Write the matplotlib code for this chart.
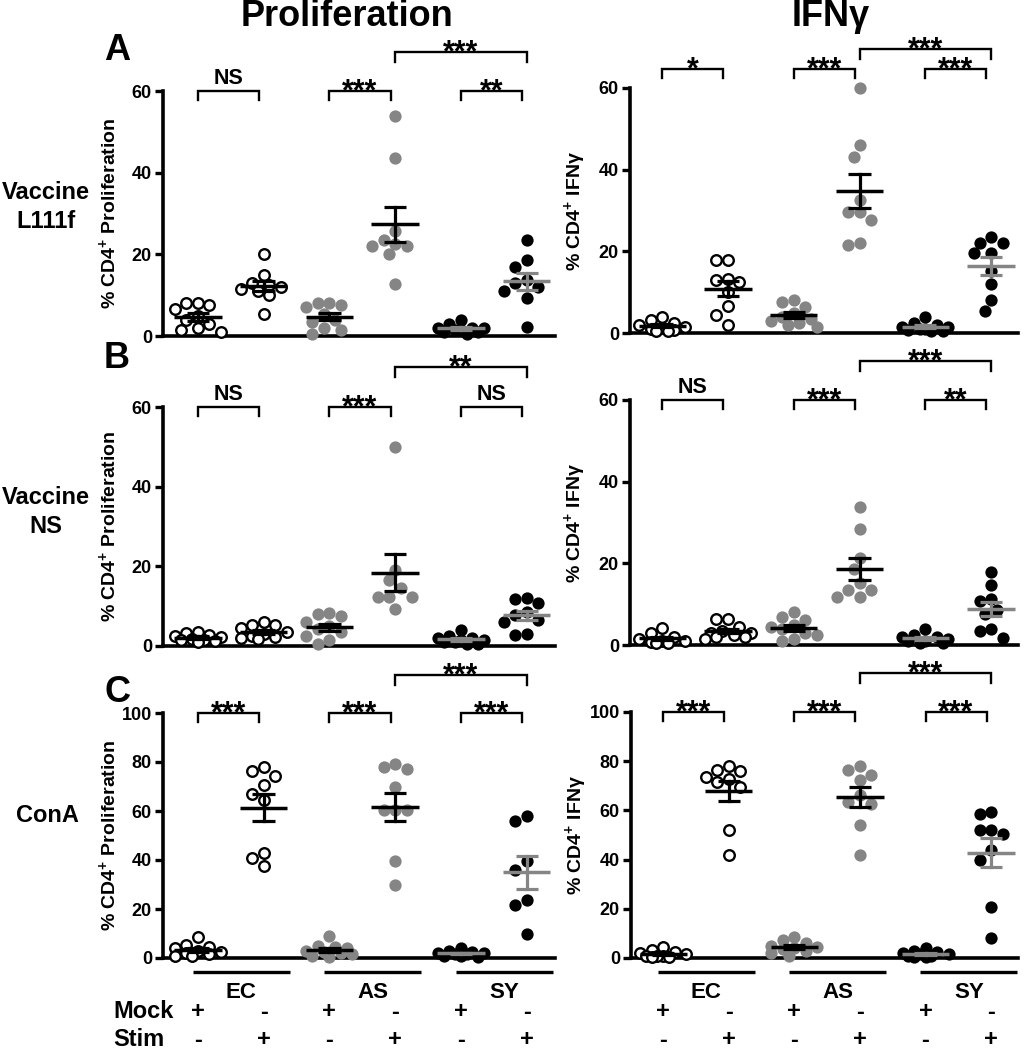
import numpy as np
import matplotlib.pyplot as plt

plt.rcParams['font.family'] = ['Liberation Sans', 'DejaVu Sans']
plt.rcParams['font.weight'] = 'bold'
plt.rcParams['mathtext.default'] = 'regular'

W, H = 1024, 1050
GRAY = '#858585'

# columns: EC mock, EC stim, AS mock, AS stim, SY mock, SY stim
groups = ['EC', 'AS', 'SY']
mock_signs = ['+', '-', '+', '-', '+', '-']
stim_signs = ['-', '+', '-', '+', '-', '+']

prolif_l111f = [
    [8, 8, 7.5, 6.5, 5, 4, 3, 2, 1.5, 1],
    [20, 15, 13, 12.5, 12, 11.5, 11, 10, 5.5],
    [8, 8, 7.5, 7, 5.5, 4, 3.5, 2, 1.5, 0.5],
    [54, 43.5, 25.8, 23.5, 22.5, 22, 22, 20, 12.7],
    [4, 3, 2, 2, 2, 1.5, 1.5, 1, 1, 0.5],
    [23.5, 18.6, 17, 13.7, 13, 12, 10.9, 9.2, 2.3],
]
ifng_l111f = [
    [4, 3.2, 2.5, 2, 1.5, 1.2, 1, 0.8, 0.6, 0.5],
    [17.9, 17.9, 13.2, 12.9, 12.6, 10, 6.7, 4.5, 2.0],
    [8.1, 7.5, 6.3, 5, 4, 3.5, 3, 2.5, 2, 1.5],
    [59.9, 46, 43.2, 32.6, 29.7, 29.7, 27.7, 22.1, 21.6],
    [4, 2.5, 2, 1.5, 1.5, 1, 1, 0.8, 0.5, 0.5],
    [23.6, 22.1, 22.1, 19.7, 19.5, 15.3, 12, 8.1, 5.3],
]
prolif_ns = [
    [3.6, 3.2, 2.8, 2.4, 2.2, 1.8, 1.6, 1.4, 1.2, 1.0],
    [6.1, 5.3, 5.3, 4.4, 3.5, 3, 2.5, 2.2, 2, 1.8],
    [8.2, 8, 7.5, 6, 5, 4.2, 3.5, 2.5, 1.5, 0.5],
    [50, 19.2, 16.5, 14.5, 12.4, 12.4, 12.4, 9.4],
    [4, 2.5, 2, 2, 1.5, 1.5, 1, 1, 0.5, 0.5],
    [12, 11.8, 10.8, 8.6, 7.8, 6.5, 6, 3, 2.7],
]
ifng_ns = [
    [4.1, 3, 2, 1.5, 1, 1, 0.8, 0.5, 0.5],
    [6.3, 6.3, 4.5, 3.5, 3, 3, 2.5, 2, 2, 1.5],
    [8.1, 6.9, 6.1, 5, 4.5, 4, 3, 2.5, 1.5, 1],
    [33.8, 28.5, 21.2, 18.7, 15.1, 13.4, 13.4, 11.8, 11.8],
    [4, 2.5, 2, 2, 1.5, 1, 1, 0.5, 0.5],
    [17.8, 14.7, 11.2, 10.8, 8.5, 7.7, 3.8, 3.5, 1.8],
]
prolif_cona = [
    [8.4, 5.4, 4.5, 4, 3, 2.5, 2, 1.5, 1, 1],
    [78, 76.2, 74.4, 70.7, 66.9, 64.6, 42.9, 40.8, 37.7],
    [8.8, 5, 4.5, 4, 3, 2.5, 2, 1.5, 1, 0.5],
    [79.2, 77.8, 77.1, 70, 60.3, 60.3, 60.3, 39.7, 29.7],
    [4, 3, 2.5, 2, 2, 1.5, 1.5, 1, 1, 0.5],
    [57.8, 55.8, 39.7, 36.1, 23.8, 21.8, 9.9],
]
ifng_cona = [
    [4.3, 3.4, 2.5, 2, 1.5, 1, 1, 1, 0.5, 0.5],
    [78, 76.4, 76, 73.6, 72.6, 71.5, 69.6, 52, 41.9],
    [8.5, 7.4, 6, 5, 4.5, 4, 3.5, 3, 2, 1],
    [78, 76.4, 74.3, 72.3, 66.2, 63.5, 62.8, 54, 41.9],
    [4, 3, 2.5, 2, 1.5, 1.5, 1, 1, 0.5, 0.5],
    [59.2, 58.5, 52, 52, 50.4, 43.9, 39.9, 20.9, 8.1],
]

# significance labels: EC pair, AS pair, SY pair, AS stim vs SY stim
sig_prolif_l111f = ['NS', '***', '**', '***']
sig_ifng_l111f = ['*', '***', '***', '***']
sig_prolif_ns = ['NS', '***', 'NS', '**']
sig_ifng_ns = ['NS', '***', '**', '***']
sig_prolif_cona = ['***', '***', '***', '***']
sig_ifng_cona = ['***', '***', '***', '***']

fig = plt.figure(figsize=(W / 100, H / 100), dpi=100)
fig.patch.set_facecolor('white')


def swarm_offsets(vals, ppu, diam=11.5):
    # spread close points sideways (pixel space); dense clusters may overlap, like GraphPad
    order = np.argsort(vals)[::-1]
    placed = []
    offs = np.zeros(len(vals))
    step = diam * 0.5
    cands = [0]
    for k in range(1, 5):
        cands += [-k * step, k * step]
    mind = diam * 1.0
    for i in order:
        y = vals[i] * ppu
        best, best_d = 0, -1
        for c in cands:
            d = min([np.hypot(c - px, y - py) for px, py in placed] or [1e9])
            if d >= mind:
                best = c
                break
            if d > best_d + 0.5:
                best, best_d = c, d
        placed.append((best, y))
        offs[i] = best
    return offs


def panel(x0, x1, ybot, ytop, ymax, xlim, data, sigs, ylabel, pair_up, big_up):
    ax = fig.add_axes([x0 / W, 1 - ybot / H, (x1 - x0) / W, (ybot - ytop) / H])
    ax.set_xlim(*xlim)
    ax.set_ylim(0, ymax)
    ppu = (ybot - ytop) / ymax
    ppx = (x1 - x0) / (xlim[1] - xlim[0])
    for s in ['top', 'right']:
        ax.spines[s].set_visible(False)
    for s in ['left', 'bottom']:
        ax.spines[s].set_linewidth(2.6)
    ax.set_xticks([])
    ax.set_yticks(np.arange(0, ymax + 1, 20))
    ax.tick_params(axis='y', length=6, width=2.4, labelsize=13, pad=2)
    ax.patch.set_alpha(0)

    for j, vals in enumerate(data):
        vals = np.array(vals, dtype=float)
        pos = j + 1
        g = j // 2
        xs = pos + swarm_offsets(vals, ppu) / ppx
        if g == 0:
            ax.scatter(xs, vals, s=58, facecolor='white', edgecolor='black',
                       linewidth=1.7, clip_on=False, zorder=3)
        else:
            ax.scatter(xs, vals, s=78, color=GRAY if g == 1 else 'black',
                       linewidth=0, clip_on=False, zorder=3)
        m = vals.mean()
        sem = vals.std(ddof=1) / np.sqrt(len(vals))
        mc = GRAY if g == 2 else 'black'
        ax.plot([pos - 0.36, pos + 0.36], [m, m], color=mc, lw=2.5,
                solid_capstyle='butt', zorder=4, clip_on=False)
        ax.plot([pos, pos], [m - sem, m + sem], color=mc, lw=2.3, zorder=4, clip_on=False)
        for yy in (m - sem, m + sem):
            ax.plot([pos - 0.17, pos + 0.17], [yy, yy], color=mc, lw=2.3,
                    solid_capstyle='butt', zorder=4, clip_on=False)

    def bracket(xa, xb, up_px, label, arm_px):
        y = ymax + up_px / ppu
        arm = arm_px / ppu
        ax.plot([xa, xa, xb, xb], [y - arm, y, y, y - arm], color='black', lw=1.7,
                clip_on=False, solid_joinstyle='miter')
        if '*' in label:
            ax.annotate(label, ((xa + xb) / 2, y), xytext=(0, -7), textcoords='offset points',
                        ha='center', va='baseline', fontsize=22, annotation_clip=False)
        else:
            ax.annotate(label, ((xa + xb) / 2, y), xytext=(0, 1.5), textcoords='offset points',
                        ha='center', va='bottom', fontsize=15.5, annotation_clip=False)

    for k in range(3):
        bracket(2 * k + 1, 2 * k + 1.93, pair_up, sigs[k], 9)
    bracket(4, 6, big_up, sigs[3], 10)

    fig.text((x0 - 55) / W, 1 - (ybot + ytop) / 2 / H, ylabel, rotation=90,
             ha='center', va='center', fontsize=14)
    return ax


ylab_p = '% CD4$^{+}$ Proliferation'
ylab_i = '% CD4$^{+}$ IFN\u03b3'
xl_left = (0.47, 6.43)
xl_right = (0.51, 6.41)

panel(163, 555, 336, 91, 60, xl_left, prolif_l111f, sig_prolif_l111f, ylab_p, 0, 39)
panel(630, 1018, 333, 88, 60, xl_right, ifng_l111f, sig_ifng_l111f, ylab_i, 19, 39)
panel(163, 555, 646, 407, 60, xl_left, prolif_ns, sig_prolif_ns, ylab_p, 0, 40)
panel(630, 1018, 645, 400, 60, xl_right, ifng_ns, sig_ifng_ns, ylab_i, 0, 39)
axc_l = panel(163, 555, 958, 713, 100, xl_left, prolif_cona, sig_prolif_cona, ylab_p, 0, 38)
axc_r = panel(631, 1018, 958, 712, 100, xl_right, ifng_cona, sig_ifng_cona, ylab_i, 0, 39)

# group lines, group names and +/- rows under the ConA panels
for ax in (axc_l, axc_r):
    tr = ax.get_xaxis_transform()
    ax_h = ax.get_position().height * H
    line_y = -14 / ax_h
    for g, name in enumerate(groups):
        p = 2 * g + 1
        ax.plot([p - 0.08, p + 1.4], [line_y, line_y], color='black', lw=2.4,
                transform=tr, clip_on=False, solid_capstyle='butt')
        ax.text(p + 0.66, -34 / ax_h, name, transform=tr, ha='center', va='center', fontsize=16)
    for j in range(6):
        ax.text(j + 1, -54 / ax_h, mock_signs[j], transform=tr, ha='center', va='center', fontsize=17)
        ax.text(j + 1, -82 / ax_h, stim_signs[j], transform=tr, ha='center', va='center', fontsize=17)

fig.text(113 / W, 1 - 1012 / H, 'Mock', ha='left', va='center', fontsize=17)
fig.text(113 / W, 1 - 1040 / H, 'Stim', ha='left', va='center', fontsize=17)

fig.text(347 / W, 1 - 17 / H, 'Proliferation', ha='center', va='center', fontsize=26)
fig.text(831 / W, 1 - 17 / H, 'IFN\u03b3', ha='center', va='center', fontsize=26)

for letter, yy in [('A', 50), ('B', 359), ('C', 692)]:
    fig.text(117 / W, 1 - yy / H, letter, ha='center', va='center', fontsize=26)

fig.text(46 / W, 1 - 207 / H, 'Vaccine\nL111f', ha='center', va='center', fontsize=17, linespacing=1.3)
fig.text(46 / W, 1 - 512 / H, 'Vaccine\nNS', ha='center', va='center', fontsize=17, linespacing=1.3)
fig.text(47 / W, 1 - 815 / H, 'ConA', ha='center', va='center', fontsize=17)

fig.savefig('out.png', dpi=100, facecolor='white')
